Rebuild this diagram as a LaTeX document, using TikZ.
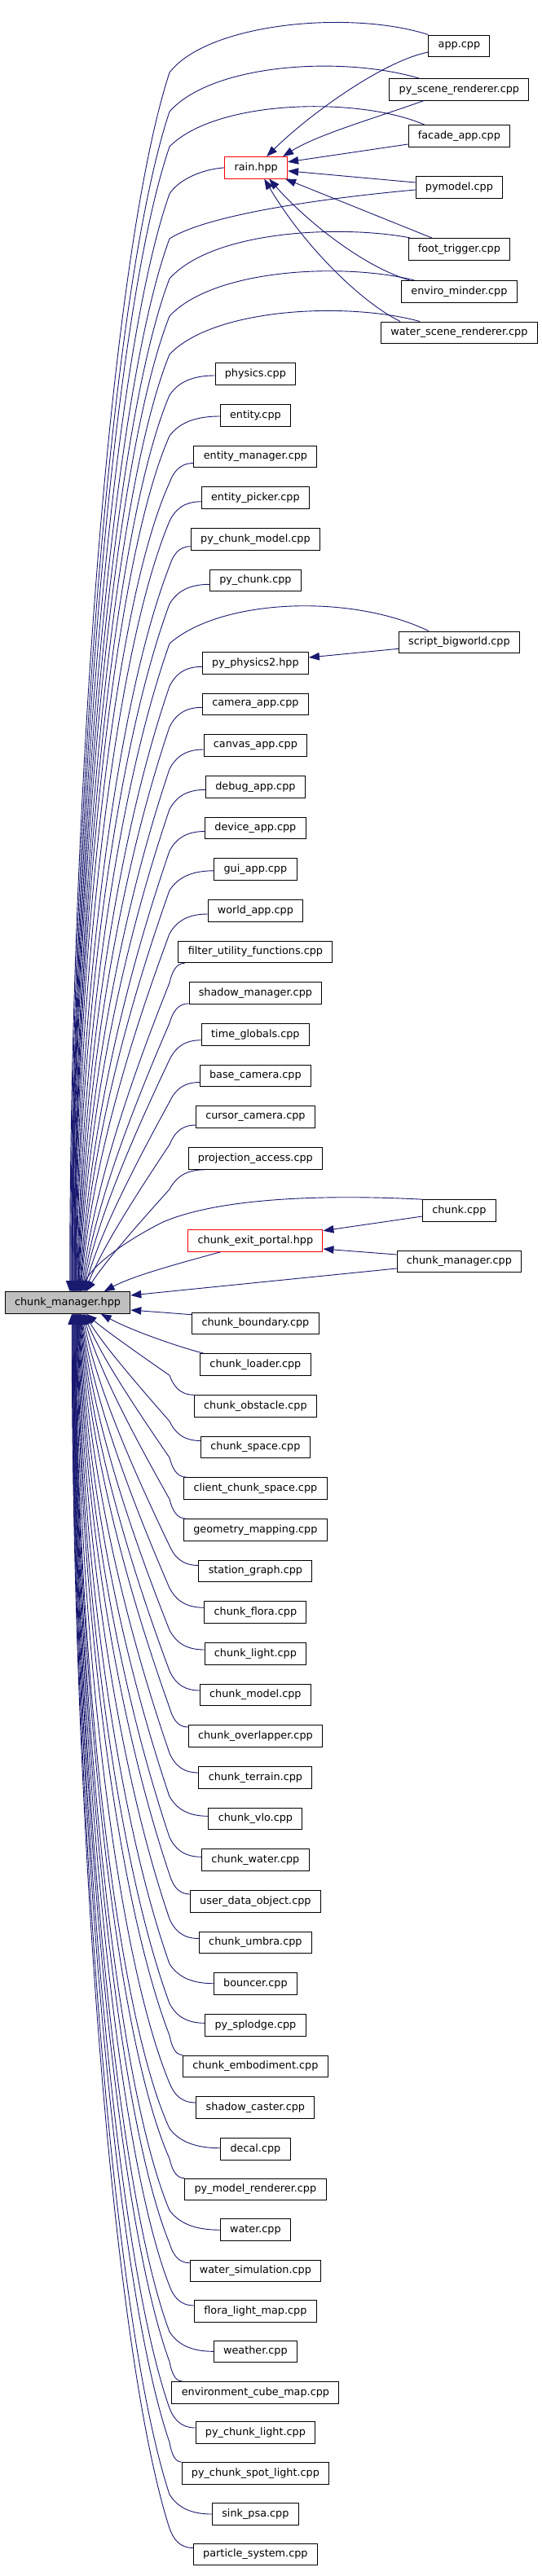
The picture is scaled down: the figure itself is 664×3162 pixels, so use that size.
\documentclass[tikz,border=0pt]{standalone}
\usepackage{fontspec}
\setmainfont{DejaVu Sans}
\usetikzlibrary{arrows.meta,calc}
\definecolor{mblue}{HTML}{191970}
\definecolor{gfill}{HTML}{BFBFBF}
\tikzset{
  box/.style={draw=black, line width=1pt, fill=white, minimum height=26.6pt, inner xsep=11.8pt, inner ysep=0pt, font=\fontsize{12.8pt}{15pt}\selectfont},
  rbox/.style={box, draw=red},
  gbox/.style={box, fill=gfill},
  dep/.style={draw=mblue, line width=0.9pt, -{Triangle[length=13pt,width=9.5pt]}, fill=none}
}
% upper column-2 edge: #1 start, #2 xshift on top of chunk_manager.hpp
\newcommand\UE[2]{%
\draw[dep] let \p1=(#1), \p2=([xshift=#2pt]cmh.north west),
  \n1={\y1-24pt}, \n2={\n1-\y2}, \n3={max(0,1-\n2/1000)} in
  (\p1) .. controls ({\x1-0.6*(\x1-208pt)},\y1) and ({208pt+0.15*(\x1-208pt)},{\y1-12pt}) .. (208pt,\n1)
  .. controls ({208pt-0.6*(208pt-\x2)},{\n1-(0.15+0.45*\n3)*\n2}) and ({\x2+0.2*\n3*(208pt-\x2)},{\n1-(0.6+0.2*\n3)*\n2}) .. (\p2);}
% lower column-2 edge
\newcommand\LE[2]{%
\draw[dep] let \p1=(#1), \p2=([xshift=#2pt]cmh.south west),
  \n1={\y1+24pt}, \n2={\y2-\n1}, \n3={max(0,1-\n2/1000)} in
  (\p1) .. controls ({\x1-0.6*(\x1-208pt)},\y1) and ({208pt+0.15*(\x1-208pt)},{\y1+12pt}) .. (208pt,\n1)
  .. controls ({208pt-0.6*(208pt-\x2)},{\n1+(0.15+0.45*\n3)*\n2}) and ({\x2+0.2*\n3*(208pt-\x2)},{\n1+(0.6+0.2*\n3)*\n2}) .. (\p2);}
% general arc edge: #1 start, #2 controls, #3 hook, #4 xshift
\newcommand\GE[4]{%
\draw[dep] let \p1=(#3), \p2=([xshift=#4pt]cmh.north west),
  \n2={\y1-\y2}, \n3={max(0,1-\n2/1000)} in
  (#1) .. controls #2 .. (\p1)
  .. controls ({\x1-0.6*(\x1-\x2)},{\y1-(0.15+0.45*\n3)*\n2}) and ({\x2+0.2*\n3*(\x1-\x2)},{\y1-(0.6+0.2*\n3)*\n2}) .. (\p2);}
\begin{document}
\begin{tikzpicture}[x=1pt,y=1pt]
\useasboundingbox (0,0) rectangle (664,-3162);
\fill[white] (0,0) rectangle (664,-3162);
% column 3 (top)
\node[box] (app) at (563.4,-56.3) {app.cpp};
\node[box] (pyscene) at (563.4,-110) {py\_scene\_renderer.cpp};
\node[box] (facade) at (563.4,-167) {facade\_app.cpp};
\node[rbox] (rain) at (314.2,-205.8) {rain.hpp};
\node[box] (pymodel) at (563.4,-230) {pymodel.cpp};
\node[box] (foot) at (563.4,-305.7) {foot\_trigger.cpp};
\node[box] (enviro) at (563.4,-357.7) {enviro\_minder.cpp};
\node[box] (wscene) at (563.4,-408.3) {water\_scene\_renderer.cpp};
% column 2 upper
\node[box] (physics) at (313.4,-459) {physics.cpp};
\node[box] (entity) at (313.4,-510) {entity.cpp};
\node[box] (entmgr) at (313.4,-560.5) {entity\_manager.cpp};
\node[box] (entpick) at (313.4,-611) {entity\_picker.cpp};
\node[box] (pcmodel) at (313.4,-662) {py\_chunk\_model.cpp};
\node[box] (pychunk) at (313.4,-712.3) {py\_chunk.cpp};
\node[box] (sbw) at (563.4,-788.3) {script\_bigworld.cpp};
\node[box] (pyp2) at (313.4,-814) {py\_physics2.hpp};
\node[box] (camera) at (313.4,-864.5) {camera\_app.cpp};
\node[box] (canvas) at (313.4,-915) {canvas\_app.cpp};
\node[box] (debug) at (313.4,-965.8) {debug\_app.cpp};
\node[box] (device) at (313.4,-1016.5) {device\_app.cpp};
\node[box] (gui) at (313.4,-1066.8) {gui\_app.cpp};
\node[box] (world) at (313.4,-1118) {world\_app.cpp};
\node[box] (filter) at (313.4,-1168.5) {filter\_utility\_functions.cpp};
\node[box] (shmgr) at (313.4,-1219) {shadow\_manager.cpp};
\node[box] (timeg) at (313.4,-1270) {time\_globals.cpp};
\node[box] (bcam) at (313.4,-1320.5) {base\_camera.cpp};
\node[box] (ccam) at (313.4,-1371) {cursor\_camera.cpp};
\node[box] (proj) at (313.4,-1422) {projection\_access.cpp};
\node[box] (chunkcpp) at (563.4,-1486) {chunk.cpp};
\node[rbox] (cep) at (313.4,-1523) {chunk\_exit\_portal.hpp};
\node[box] (cmcpp) at (563.4,-1548.5) {chunk\_manager.cpp};
\node[gbox] (cmh) at (83,-1599) {chunk\_manager.hpp};
% column 2 lower
\node[box] (cbound) at (313.4,-1624.5) {chunk\_boundary.cpp};
\node[box] (cload) at (313.4,-1675) {chunk\_loader.cpp};
\node[box] (cobst) at (313.4,-1726) {chunk\_obstacle.cpp};
\node[box] (cspace) at (313.4,-1776.5) {chunk\_space.cpp};
\node[box] (ccs) at (313.4,-1827) {client\_chunk\_space.cpp};
\node[box] (geo) at (313.4,-1878) {geometry\_mapping.cpp};
\node[box] (station) at (313.4,-1928.5) {station\_graph.cpp};
\node[box] (flora) at (313.4,-1979) {chunk\_flora.cpp};
\node[box] (light) at (313.4,-2030) {chunk\_light.cpp};
\node[box] (model) at (313.4,-2080.5) {chunk\_model.cpp};
\node[box] (overlap) at (313.4,-2131) {chunk\_overlapper.cpp};
\node[box] (terrain) at (313.4,-2182) {chunk\_terrain.cpp};
\node[box] (vlo) at (313.4,-2232.3) {chunk\_vlo.cpp};
\node[box] (cwater) at (313.4,-2283) {chunk\_water.cpp};
\node[box] (udo) at (313.4,-2334) {user\_data\_object.cpp};
\node[box] (umbra) at (313.4,-2384.5) {chunk\_umbra.cpp};
\node[box] (bouncer) at (313.4,-2434.7) {bouncer.cpp};
\node[box] (splodge) at (313.4,-2486) {py\_splodge.cpp};
\node[box] (embod) at (313.4,-2536.3) {chunk\_embodiment.cpp};
\node[box] (scaster) at (313.4,-2587) {shadow\_caster.cpp};
\node[box] (decal) at (313.4,-2638) {decal.cpp};
\node[box] (pmr) at (313.4,-2687.5) {py\_model\_renderer.cpp};
\node[box] (water) at (313.4,-2737.2) {water.cpp};
\node[box] (wsim) at (313.4,-2787.3) {water\_simulation.cpp};
\node[box] (flm) at (313.4,-2836.7) {flora\_light\_map.cpp};
\node[box] (weather) at (313.4,-2886.3) {weather.cpp};
\node[box] (ecm) at (313.4,-2936.7) {environment\_cube\_map.cpp};
\node[box] (pcl) at (313.4,-2986) {py\_chunk\_light.cpp};
\node[box] (pcsl) at (313.4,-3035.8) {py\_chunk\_spot\_light.cpp};
\node[box] (sink) at (313.4,-3086) {sink\_psa.cpp};
\node[box] (psys) at (313.4,-3135.5) {particle\_system.cpp};

% edges to rain.hpp
\draw[dep] ([yshift=-7.7pt]app.west) .. controls (470,-75) and (380,-140) .. ([xshift=13pt]rain.north);
\draw[dep] ([xshift=42pt]pyscene.south west) .. controls (460,-145) and (390,-165) .. ([xshift=-6pt]rain.north east);
\draw[dep] ([yshift=-10pt]facade.west) -- ([yshift=7pt]rain.east);
\draw[dep] ([yshift=6pt]pymodel.west) -- ([yshift=-4pt]rain.east);
\draw[dep] ([xshift=29pt]foot.north west) -- ([xshift=-3pt]rain.south east);
\draw[dep] ([xshift=10pt]enviro.north west) .. controls (440,-325) and (370,-265) .. ([xshift=16pt]rain.south);
\draw[dep] ([xshift=24pt]wscene.north west) .. controls (445,-372) and (375,-305) .. ([xshift=10pt]rain.south);

% arcs to chunk_manager.hpp
\GE{app.north west}{(430,-12) and (255,-28)}{208,-89}{80}
\GE{[xshift=37pt]pyscene.north west}{(420,-68) and (260,-78)}{208,-137}{81}
\GE{[xshift=20.5pt]facade.north west}{(440,-118) and (265,-122)}{208,-180}{82}
\GE{rain.west}{(245,-208) and (218,-222)}{208,-238}{82.5}
\GE{[yshift=-3pt]pymodel.west}{(400,-243) and (255,-263)}{208,-293}{83}
\GE{[xshift=2.5pt]foot.north west}{(420,-276) and (262,-282)}{208,-342}{83.5}
\GE{[xshift=16pt]enviro.north west}{(420,-322) and (262,-330)}{208,-388}{84}
\GE{[xshift=48pt]wscene.north west}{(425,-370) and (262,-378)}{208,-435}{85}
\GE{[xshift=37pt]sbw.north west}{(430,-728) and (270,-735)}{208,-790}{89}
\draw[dep] ([yshift=-8pt]sbw.west) -- ([yshift=7pt]pyp2.east);

% upper column-2 edges
\UE{[yshift=-2pt]physics.west}{85.5}
\UE{[yshift=-1pt]entity.west}{86}
\UE{[yshift=-8pt]entmgr.west}{86.5}
\UE{[yshift=-4.7pt]entpick.west}{87}
\UE{[yshift=-8.7pt]pcmodel.west}{87.5}
\UE{[yshift=-5pt]pychunk.west}{88}
\UE{[yshift=-4.3pt]pyp2.west}{89.5}
\UE{[yshift=-3.8pt]camera.west}{90}
\UE{[yshift=-5pt]canvas.west}{90.5}
\UE{[yshift=-3.5pt]debug.west}{91}
\UE{[yshift=-4pt]device.west}{92}
\UE{[yshift=-2pt]gui.west}{92.5}
\UE{[yshift=-4pt]world.west}{93}
\UE{[xshift=8pt]filter.south west}{94}
\UE{[yshift=1pt]shmgr.south west}{95}
\UE{[yshift=-6.7pt]timeg.west}{96}
\UE{[yshift=-8pt]bcam.west}{97}
\UE{[yshift=-10pt]ccam.west}{98.5}
\UE{[xshift=20pt]proj.south west}{100}

% around chunk_exit_portal
\draw[dep] (chunkcpp.north west) .. controls (400,-1466) and (270,-1470) .. (200,-1500) .. controls (160,-1520) and (115,-1550) .. ([xshift=93pt]cmh.north west);
\draw[dep] ([yshift=-7pt]chunkcpp.west) -- ([yshift=-1.5pt]cep.north east);
\draw[dep] ([yshift=8.5pt]cmcpp.west) -- ([yshift=-10pt]cep.east);
\draw[dep] ([yshift=-8.5pt]cmcpp.west) -- ([yshift=9pt]cmh.east);
\draw[dep] ([xshift=40pt]cep.south west) .. controls (230,-1548) and (165,-1565) .. ([xshift=122pt]cmh.north west);
\draw[dep] ([yshift=-3pt]cbound.north west) -- ([yshift=-9pt]cmh.east);
\draw[dep] ([xshift=5pt]cload.north west) .. controls (225,-1655) and (165,-1635) .. ([xshift=118pt]cmh.south west);

% lower column-2 edges
\LE{cobst.north west}{100}
\LE{[yshift=8pt]cspace.west}{98}
\LE{[xshift=3.4pt]ccs.north west}{97}
\LE{[xshift=3.4pt]geo.north west}{96}
\LE{[yshift=7pt]station.west}{95}
\LE{[yshift=5.7pt]flora.west}{94}
\LE{[yshift=5pt]light.west}{93.5}
\LE{[yshift=5.5pt]model.west}{93}
\LE{[yshift=11pt]overlap.west}{92.5}
\LE{[yshift=6pt]terrain.west}{92}
\LE{[yshift=3pt]vlo.west}{91.5}
\LE{[yshift=3.7pt]cwater.west}{91}
\LE{[yshift=9pt]udo.west}{90.5}
\LE{[yshift=5pt]umbra.west}{90}
\LE{bouncer.west}{89.5}
\LE{[yshift=2.7pt]splodge.west}{89}
\LE{embod.north west}{88.5}
\LE{[yshift=6pt]scaster.west}{88}
\LE{[yshift=1.3pt]decal.west}{87.5}
\LE{pmr.north west}{87}
\LE{water.west}{86.5}
\LE{[yshift=9.6pt]wsim.west}{86}
\LE{[yshift=6.7pt]flm.west}{85.5}
\LE{weather.west}{85}
\LE{[xshift=13pt]ecm.north west}{84.5}
\LE{[yshift=6pt]pcl.west}{84}
\LE{pcsl.north west}{83.5}
\LE{sink.west}{83}
\LE{[yshift=8pt]psys.west}{82.5}
\end{tikzpicture}
\end{document}
